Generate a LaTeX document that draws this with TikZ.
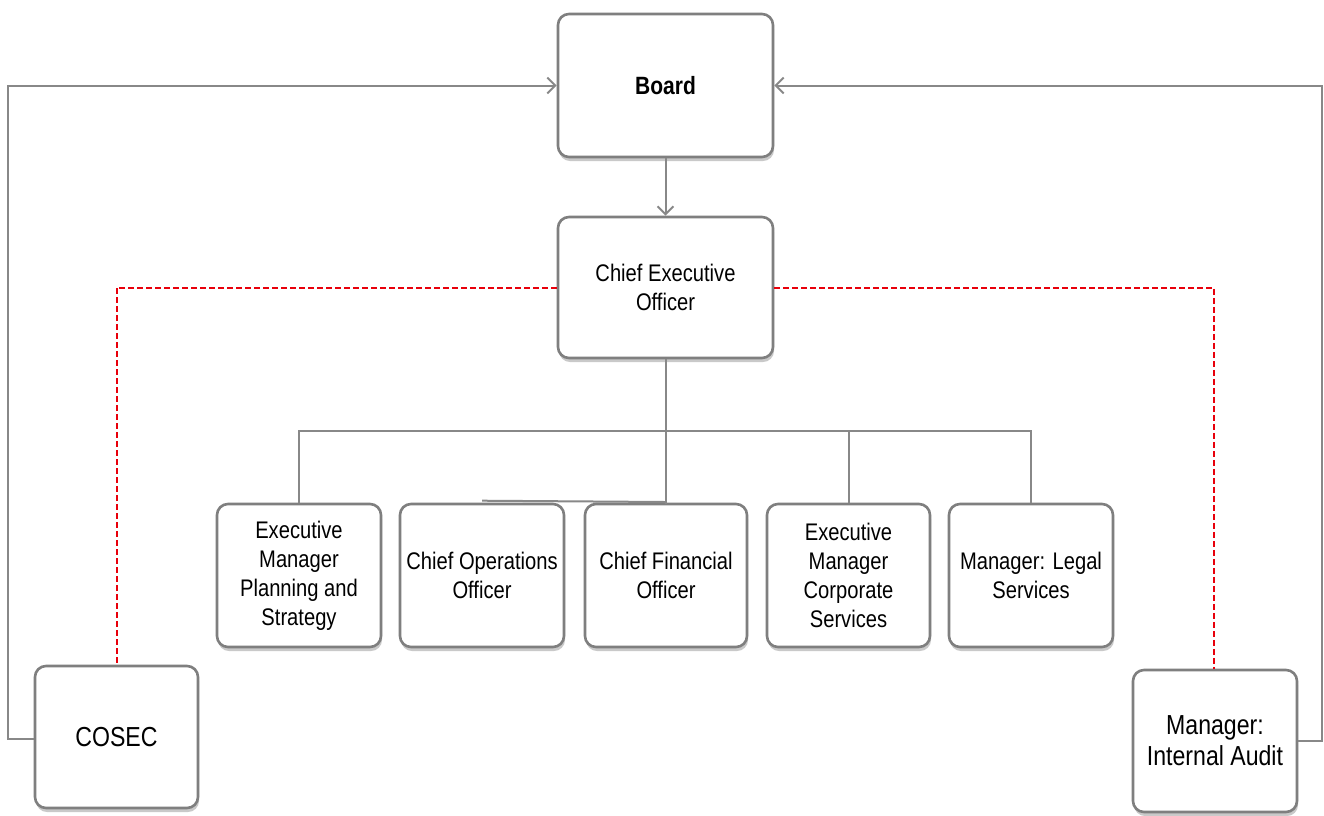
\documentclass[tikz,border=0pt]{standalone}
\usepackage{fontspec}
\setmainfont[FakeStretch=0.84]{Liberation Sans}
\usetikzlibrary{arrows.meta,shadows}
\definecolor{boxgray}{HTML}{7F7F7F}
\definecolor{linegray}{HTML}{888888}
\definecolor{dashred}{HTML}{E8000B}
\tikzset{
  orgbox/.style={draw=boxgray, line width=2.6pt, rounded corners=11pt, fill=white,
    align=center, font=\fontsize{24}{29}\selectfont, inner sep=0pt,
    drop shadow={opacity=0.35, shadow xshift=1pt, shadow yshift=-4pt, fill=black!60}},
  bigtext/.style={font=\fontsize{27.5}{31}\selectfont},
  conn/.style={draw=linegray, line width=2pt},
  arr/.style={conn, -{Straight Barb[length=8pt,width=16pt,line width=2pt]}},
  reddash/.style={draw=dashred, line width=2pt, dash pattern=on 6pt off 3pt}
}
\begin{document}
\begin{tikzpicture}[x=1pt,y=-1pt]
\useasboundingbox (0,0) rectangle (1324,815);
\fill[white] (0,0) rectangle (1324,815);
% nodes
\node[orgbox, minimum width=215pt, minimum height=143pt, font=\bfseries\fontsize{25}{29}\selectfont] (board) at (665.5,85.5) {Board};
\node[orgbox, minimum width=215pt, minimum height=141pt] (ceo) at (665.5,287.5) {Chief Executive\\Officer};
\node[orgbox, minimum width=164pt, minimum height=143pt] (emps) at (299,575.5) {Executive\\Manager\\Planning and\\Strategy};
\node[orgbox, minimum width=164pt, minimum height=143pt] (coo) at (482,575.5) {Chief Operations\\Officer};
\node[orgbox, minimum width=162pt, minimum height=143pt] (cfo) at (666,575.5) {Chief Financial\\Officer};
\node[orgbox, minimum width=163pt, minimum height=143pt] (emcs) at (848.5,575.5) {Executive\\Manager\\Corporate\\Services};
\node[orgbox, minimum width=164pt, minimum height=143pt] (legal) at (1031,575.5) {Manager: Legal\\Services};
\node[orgbox, bigtext, minimum width=163pt, minimum height=142pt] (cosec) at (116.5,737) {COSEC};
\node[orgbox, bigtext, minimum width=164pt, minimum height=142pt] (audit) at (1215,741) {Manager:\\Internal Audit};
% coordinates
\coordinate (bus) at (665.5,431);
\coordinate (cl) at (8,739);
\coordinate (ct) at (8,85.5);
\coordinate (ar) at (1322,741);
\coordinate (at) at (1322,85.5);
% connectors
\draw[arr] (board.south) -- (ceo.north);
\draw[conn] (ceo.south) -- (665.5,504);
\draw[conn] (emps.north) -- (emps.north |- bus) -- (legal.north |- bus) -- (legal.north);
\draw[conn] (emcs.north |- bus) -- (emcs.north);
\draw[conn] (coo.north) ++(0,-2) -- (665.5,502);
\draw[arr] (cosec.west |- cl) -- (cl) -- (ct) -- (board.west);
\draw[arr] (audit.east |- ar) -- (ar) -- (at) -- (board.east);
\draw[reddash] (ceo.west) -- (cosec.north |- ceo.west) -- (cosec.north);
\draw[reddash] (ceo.east) -- (1214,287.5) -- (audit.north -| 1214,0);
\end{tikzpicture}
\end{document}
